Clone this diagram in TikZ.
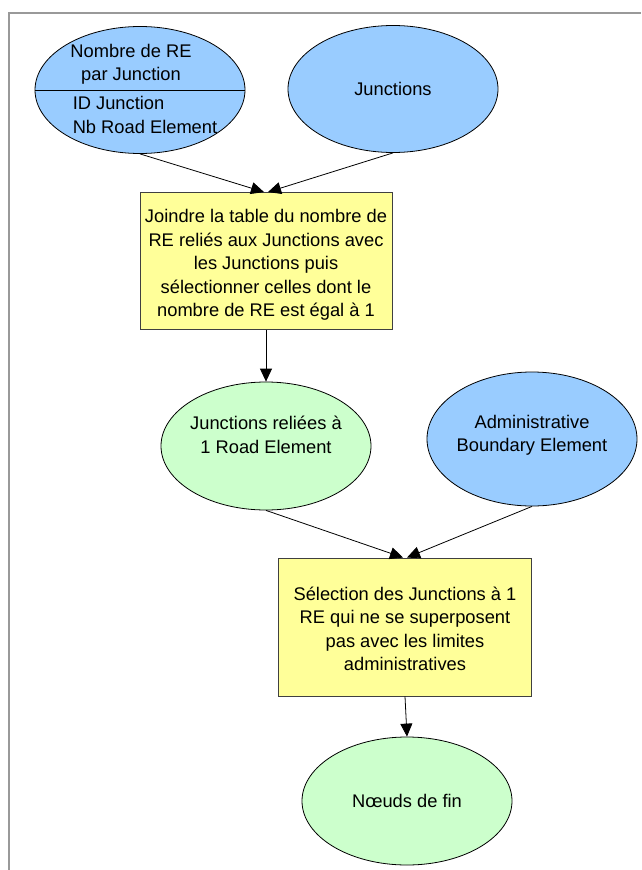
\documentclass[tikz,border=0pt]{standalone}
\usepackage{fontspec}
\setmainfont{Liberation Sans}
\usetikzlibrary{shapes.geometric,arrows.meta}
\definecolor{dataBlue}{HTML}{99CCFF}
\definecolor{resultGreen}{HTML}{CCFFCC}
\definecolor{stepYellow}{HTML}{FFFF99}
\definecolor{frameGray}{HTML}{999999}
\begin{document}
\begin{tikzpicture}[x=1pt,y=-1pt,
  every node/.style={font=\fontsize{18.3}{23.4}\selectfont,align=center},
  datum/.style={ellipse,draw=black,line width=0.8pt,minimum width=210pt,minimum height=127pt,inner sep=0pt},
  stepbox/.style={rectangle,draw=black!75,line width=0.9pt,fill=stepYellow,inner sep=0pt},
  flow/.style={draw=black,line width=0.8pt,-{Triangle[length=13pt,width=12pt]}}]
\useasboundingbox (0,0) rectangle (641,870);
% page frame
\draw[frameGray,line width=2pt] (9,870) -- (9,13) -- (641,13);

% source tables
\node[datum,fill=dataBlue] (nbre) at (140,90) {};
\draw[line width=0.8pt] (nbre.west) -- (nbre.east);
\node (nbreTitle) at (131,64) {Nombre de RE\\par Junction};
\node[align=left] (nbreFields) at (145,115) {ID Junction\\Nb Road Element};
\node[datum,fill=dataBlue] (junc) at (393,89) {Junctions};

% first processing step
\node[stepbox,minimum width=252pt,minimum height=137pt] (join) at (266,261) {};
\node (joinText) at (266,265)
  {Joindre la table du nombre de\\RE reliés aux Junctions avec\\les Junctions puis\\sélectionner celles dont le\\nombre de RE est égal à 1};

% intermediate results
\node[datum,fill=resultGreen,minimum height=128pt] (reliees) at (266,446) {};
\node (relieesText) at (266,435) {Junctions reliées à\\1 Road Element};
\node[datum,fill=dataBlue,minimum height=134pt] (admin) at (532,439) {};
\node (adminText) at (532,435) {Administrative\\Boundary Element};

% second processing step
\node[stepbox,minimum width=253pt,minimum height=138pt] (select) at (405,627) {};
\node (selectText) at (405,629)
  {Sélection des Junctions à 1\\RE qui ne se superposent\\pas avec les limites\\administratives};

% final result
\node[datum,fill=resultGreen,minimum height=128pt] (fin) at (407,801) {Nœuds de fin};

% connectors
\draw[flow] (nbre.south) -- ([xshift=-2pt]join.north);
\draw[flow] (junc.south) -- ([xshift=2pt]join.north);
\draw[flow] (join.south) -- (reliees.north);
\draw[flow] (reliees.south) -- ([xshift=-2pt]select.north);
\draw[flow] (admin.south) -- ([xshift=2pt]select.north);
\draw[flow] (select.south) -- (fin.north);
\end{tikzpicture}
\end{document}
